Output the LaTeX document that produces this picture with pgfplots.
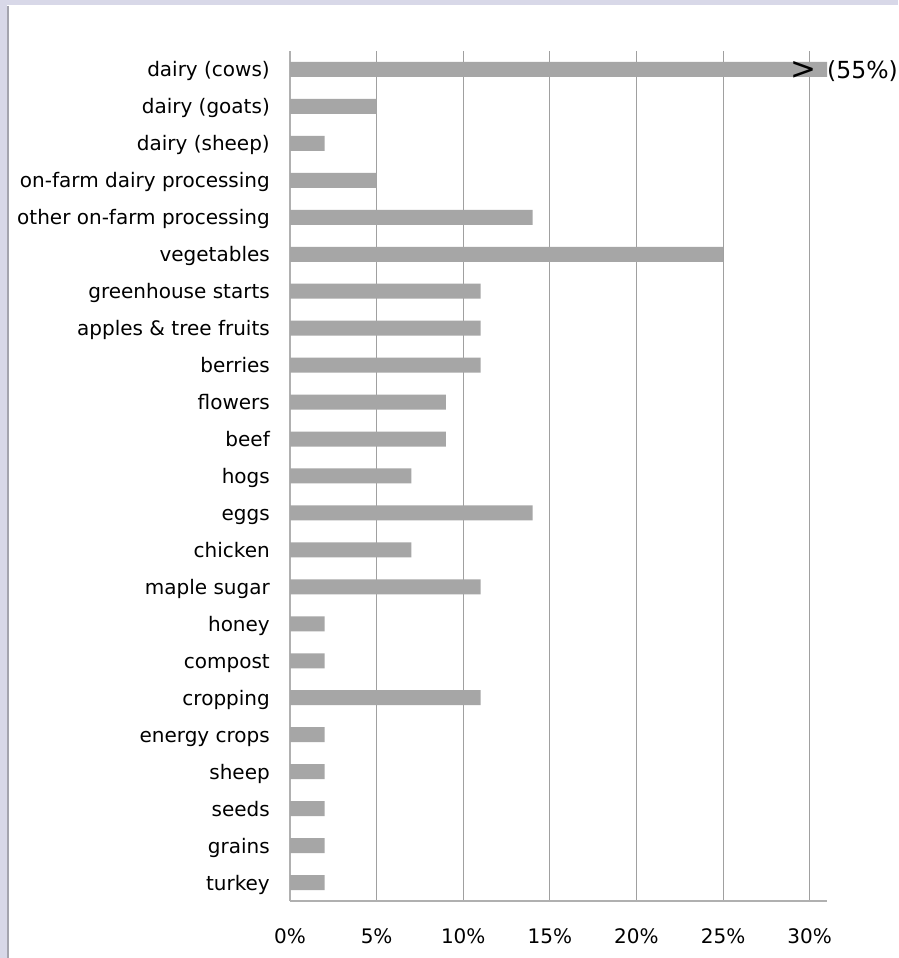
\documentclass[border=0pt]{standalone}
\usepackage{pgfplots}
\pgfplotsset{compat=1.18}
\usepackage{fontspec}
\setmainfont{DejaVu Sans}
\definecolor{barc}{HTML}{A6A6A6}
\definecolor{gridc}{HTML}{A0A0A0}
\definecolor{axc}{HTML}{B0B0B0}
\definecolor{lav}{HTML}{D8D8E8}
\definecolor{lavd}{HTML}{A4A4AE}
\begin{document}
\begin{tikzpicture}[font=\fontsize{20pt}{24pt}\selectfont]
\useasboundingbox (0pt,0pt) rectangle (898pt,958pt);
\clip (0pt,0pt) rectangle (898pt,958pt);
\fill[white] (0pt,0pt) rectangle (898pt,958pt);
\fill[lav] (0pt,953pt) rectangle (898pt,958pt);
\fill[lav] (0pt,0pt) rectangle (7.3pt,953pt);
\fill[lavd] (7.3pt,0pt) rectangle (8.7pt,952.3pt);
\begin{axis}[
  at={(290pt,57pt)}, anchor=south west,
  width=537pt, height=850pt, scale only axis,
  xbar, bar width=15pt,
  xmin=0, xmax=31, ymin=-0.5, ymax=22.5,
  xtick={0,5,10,15,20,25,30},
  xticklabels={0\%,5\%,10\%,15\%,20\%,25\%,30\%},
  ytick={0,...,22},
  yticklabels={turkey,grains,seeds,sheep,energy crops,cropping,compost,honey,maple sugar,chicken,eggs,hogs,beef,flowers,berries,apples \& tree fruits,greenhouse starts,vegetables,other on-farm processing,on-farm dairy processing,dairy (sheep),dairy (goats),dairy (cows)},
  xmajorgrids, ymajorgrids=false,
  major grid style={gridc, line width=1pt},
  axis x line*=bottom, axis y line*=left,
  axis line style={-, draw=axc, line width=1.2pt},
  major tick length=0pt,
  tick label style={font=\fontsize{20pt}{24pt}\selectfont, text=black},
  xticklabel style={anchor=base, inner sep=0pt, yshift=-42pt},
  yticklabel style={anchor=base east, inner sep=0pt, xshift=-20pt, yshift=-7.5pt},
  clip mode=individual,
]
\addplot[fill=barc, draw=none] coordinates {
 (55,22) (5,21) (2,20) (5,19) (14,18) (25,17) (11,16) (11,15) (11,14) (9,13) (9,12) (7,11)
 (14,10) (7,9) (11,8) (2,7) (2,6) (11,5) (2,4) (2,3) (2,2) (2,1) (2,0)};
\node[font=\fontsize{31pt}{34pt}\selectfont, inner sep=0pt, anchor=center, yshift=-1.5pt] at (axis cs:29.65,22) {>};
\node[font=\fontsize{23.5pt}{28pt}\selectfont, inner sep=0pt, anchor=base west, yshift=-9.5pt] at (axis cs:31,22) {(55\%)};
\end{axis}
\end{tikzpicture}
\end{document}
